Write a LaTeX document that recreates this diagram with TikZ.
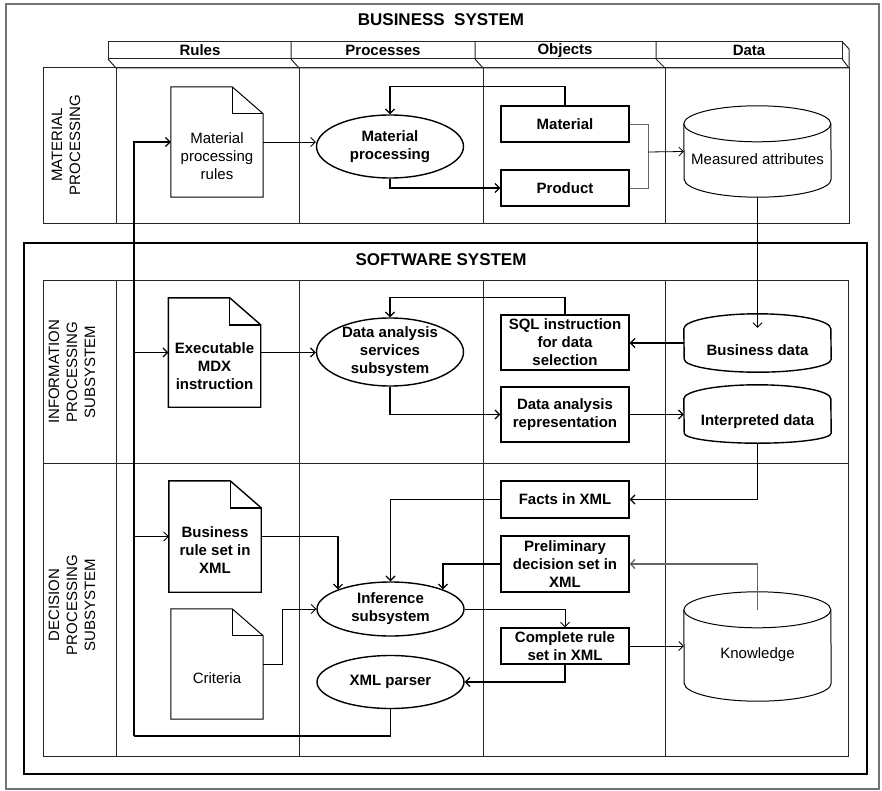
\documentclass[tikz,border=0pt]{standalone}
\usepackage{fontspec}
\setmainfont{Liberation Sans}
\usetikzlibrary{arrows.meta,calc,shapes.geometric}
\newcommand\fs{\fontsize{15}{18}\selectfont}
\newcommand\folddoc[2]{%
  \draw[#2] (#1.north west) -- ($(#1.north east)+(-31,0)$) -- ($(#1.north east)+(0,27)$) -- (#1.south east) -- (#1.south west) -- cycle;
  \draw[#2] ($(#1.north east)+(-31,0)$) -- ($(#1.north east)+(-31,27)$) -- ($(#1.north east)+(0,27)$);}
\newcommand\drum[4]{%
  \draw[#4] ($(#1.north west)+(0,#2)$) arc[start angle=180,end angle=0,x radius=73.5pt,y radius=#2pt]
    -- ($(#1.south east)+(0,-#3)$) arc[start angle=0,end angle=-180,x radius=73.5pt,y radius=#3pt] -- cycle;}
\newcommand\drumfront[3]{%
  \draw[#3] ($(#1.north west)+(0,#2)$) arc[start angle=180,end angle=360,x radius=73.5pt,y radius=#2pt];}
\tikzset{
  objbox/.style={draw, line width=1.4pt, rectangle, minimum width=128pt, inner sep=0pt, align=center, font=\fs\bfseries},
  ell/.style={ellipse, draw, line width=1.4pt, minimum width=147pt, inner sep=0pt},
  docn/.style={rectangle, minimum width=92pt, inner sep=0pt},
  cyln/.style={rectangle, minimum width=147pt, inner sep=0pt},
  lane/.style={line width=1pt, draw=black!85},
  thinc/.style={line width=0.8pt},
  midc/.style={line width=1.2pt},
  hdr/.style={font=\fs\bfseries},
  lanelbl/.style={rotate=90, align=center, font=\fs},
}
\begin{document}
\begin{tikzpicture}[x=1pt,y=-1pt,>={Straight Barb[length=4.5pt,width=9pt]}]
\useasboundingbox (0,0) rectangle (882,791);
% outer frame
\draw[line width=1.2pt, black!55] (6,4) rectangle (879,789);
\node[font=\fontsize{17}{20}\selectfont\bfseries] (bstitle) at (441,20) {BUSINESS\ \ SYSTEM};
% header bar
\draw[lane] (108,41.5) rectangle (842,59);
\draw[lane] (108,59) -- (116,68) -- (849,68) -- (842,59);
\draw[lane] (842,41.5) -- (849,49) -- (849,68);
\foreach \x/\xx in {291/299,475/483,656/665} {\draw[lane] (\x,41.5) -- (\x,59) -- (\xx,68);}
\node[hdr] (hrules) at (200,50.5) {Rules};
\node[hdr] (hproc) at (383,50.5) {Processes};
\node[hdr] (hobj) at (565,50.5) {Objects};
\node[hdr] (hdata) at (749,50.5) {Data};
% material processing lane
\draw[lane] (43,68) rectangle (849,224);
\foreach \x in {116,299,483,665} {\draw[lane] (\x,68) -- (\x,224);}
\node[lanelbl] (lmat) at (66,145) {MATERIAL\\PROCESSING};
% software system
\draw[line width=1.3pt] (24,243) rectangle (867,774);
\node[font=\fontsize{17}{20}\selectfont\bfseries] (sstitle) at (441,260) {SOFTWARE SYSTEM};
\draw[lane] (43,280) rectangle (848,756);
\draw[lane] (43,463) -- (848,463);
\foreach \x in {116,299,483,665} {\draw[lane] (\x,280) -- (\x,756);}
\node[lanelbl] (linfo) at (72,372) {INFORMATION\\PROCESSING\\SUBSYSTEM};
\node[lanelbl] (ldec) at (72,605) {DECISION\\PROCESSING\\SUBSYSTEM};

% ---- nodes: material processing
\node[docn, minimum height=110pt, label={[font=\fs,align=center,yshift=-14pt]center:{Material\\processing\\rules}}] (mpr) at (217,142) {};
\folddoc{mpr}{line width=1pt}
\node[ell, minimum height=63pt, label={[font=\fs\bfseries,align=center]center:{Material\\processing}}] (mp) at (390,146.5) {};
\node[objbox, minimum height=36pt] (mat) at (565,124) {Material};
\node[objbox, minimum height=36pt] (prod) at (565,188) {Product};
\node[cyln, minimum height=91pt, label={[font=\fs,yshift=-8pt]center:Measured attributes}] (meas) at (757.5,151.5) {};
\drum{meas}{18}{18}{line width=1pt}
\drumfront{meas}{18}{line width=1pt}

% ---- information processing
\node[docn, minimum height=109pt, label={[font=\fs\bfseries,align=center,yshift=-14pt]center:{Executable\\MDX\\instruction}}] (mdx) at (214.5,352.5) {};
\folddoc{mdx}{line width=1.4pt}
\node[ell, minimum height=68pt, label={[font=\fs\bfseries,align=center]center:{Data analysis\\services\\subsystem}}] (da) at (390,352) {};
\node[objbox, minimum height=55pt] (sql) at (565,342.5) {SQL instruction\\for data\\selection};
\node[objbox, minimum height=55pt] (dar) at (565,414.5) {Data analysis\\representation};
\node[cyln, minimum height=58pt, label={[font=\fs\bfseries,yshift=-7pt]center:Business data}] (bd) at (757.5,343) {};
\drum{bd}{15}{13}{line width=1.4pt}
\node[cyln, minimum height=58pt, label={[font=\fs\bfseries,yshift=-8pt]center:Interpreted data}] (id) at (757.5,414) {};
\drum{id}{14}{10}{line width=1.4pt}

% ---- decision processing
\node[docn, minimum height=111pt, label={[font=\fs\bfseries,align=center,yshift=-13.5pt]center:{Business\\rule set in\\XML}}] (brs) at (215,536.5) {};
\folddoc{brs}{line width=1.4pt}
\node[docn, minimum height=110pt, label={[font=\fs,yshift=-14pt]center:Criteria}] (cri) at (217,664) {};
\folddoc{cri}{line width=1pt}
\node[ell, minimum height=54pt, label={[font=\fs\bfseries,align=center]center:{Inference\\subsystem}}] (inf) at (390.5,609) {};
\node[ell, minimum height=53pt, label={[font=\fs\bfseries]center:XML parser}] (xp) at (390.5,682) {};
\node[objbox, minimum height=37pt] (facts) at (565,499.5) {Facts in XML};
\node[objbox, minimum height=56pt] (prelim) at (565,564) {Preliminary\\decision set in\\XML};
\node[objbox, minimum height=36pt] (comp) at (565,646) {Complete rule\\set in XML};
\node[cyln, minimum height=109pt, label={[font=\fs,yshift=-8pt]center:Knowledge}] (kn) at (757.5,646.5) {};
\drum{kn}{18}{18}{line width=1pt}
\drumfront{kn}{18}{line width=1pt}

% ---- connectors: material processing
\draw[thinc,->] (mpr.east) -- (mpr.east -| mp.west);
\draw[midc,->] (mat.north) -- ++(0,-19) -| (mp.north);
\draw[midc,->] (mp.south) |- (prod.west);
\coordinate (j1) at (648,152);
\draw[thinc,black!60] (mat.east) -| (j1) |- (prod.east);
\draw[thinc,->] (j1) -- (meas.west);
\draw[thinc,->] (meas.south) -- ($(bd.north)+(0,14)$);

% ---- connectors: information processing
\draw[midc,->] (bd.west) -- (bd.west -| sql.east);
\draw[midc,->] (sql.north) -- ++(0,-17) -| (da.north);
\draw[midc,->] (mdx.east) -- (mdx.east -| da.west);
\draw[midc,->] (da.south) |- (dar.west);
\draw[midc,->] (dar.east) -- (dar.east -| id.west);
\draw[midc,->] (id.south) |- (facts.east);

% ---- connectors: decision processing
\draw[midc,->] (facts.west) -| (inf.north);
\draw[midc,->] (brs.east) -| (inf.north west);
\draw[midc,->] (prelim.west) -| (inf.north east);
\draw[midc,black!60,->] ($(kn.north)+(0,18)$) |- (prelim.east);
\draw[thinc,->] (cri.east) -- ++(19,0) |- (inf.west);
\draw[thinc,->] (inf.east) -| (comp.north);
\draw[thinc,->] (comp.east) -- (comp.east -| kn.west);
\draw[midc,->] (comp.south) |- (xp.east);
\coordinate (b0) at (134,736);
\draw[line width=1.6pt] (xp.south) |- (b0);
\draw[midc,->] (b0) |- (mpr.west);
\draw[midc,->] (b0 |- mdx.west) -- (mdx.west);
\draw[thinc,->] (b0 |- brs.west) -- (brs.west);
\end{tikzpicture}
\end{document}
